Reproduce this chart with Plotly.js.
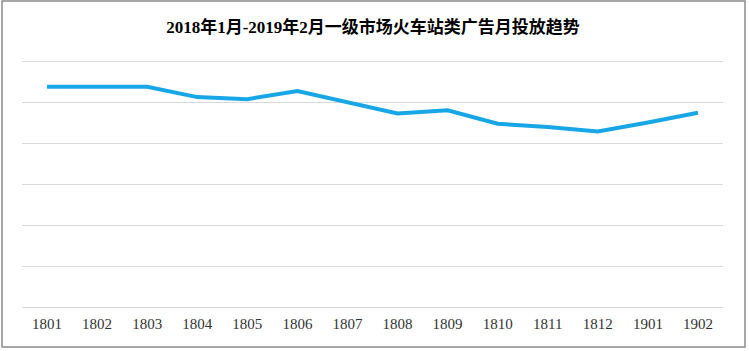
<!DOCTYPE html>
<html>
<head>
<meta charset="utf-8">
<script src="https://cdn.plot.ly/plotly-3.0.1.min.js"></script>
<style>
html,body{margin:0;padding:0;background:#fff;}
#chart{width:749px;height:351px;}
</style>
</head>
<body>
<div id="chart"></div>
<script>
const months = ['1801','1802','1803','1804','1805','1806','1807','1808','1809','1810','1811','1812','1901','1902'];
const values = [5.37, 5.37, 5.37, 5.12, 5.07, 5.27, 5.00, 4.72, 4.80, 4.47, 4.39, 4.28, 4.50, 4.74];
const titleText = '2018年1月-2019年2月一级市场火车站类广告月投放趋势';

const trace = {
  x: months,
  y: values,
  type: 'scatter',
  mode: 'lines',
  line: {color: '#17A7E6', width: 4},
  hoverinfo: 'skip'
};

const layout = {
  width: 749,
  height: 351,
  margin: {l: 22, r: 26, t: 59, b: 44},
  paper_bgcolor: '#ffffff',
  plot_bgcolor: '#ffffff',
  showlegend: false,
  title: {
    text: '<b>' + titleText + '</b>',
    font: {family: '"Liberation Serif", "Noto Sans CJK SC", serif', size: 17, color: '#000'},
    x: 0.498, xanchor: 'center',
    y: 0.923, yanchor: 'middle'
  },
  xaxis: {
    type: 'category',
    range: [-0.5, months.length - 0.5],
    showgrid: false,
    zeroline: false,
    showline: false,
    ticks: '',
    tickfont: {family: '"Liberation Serif", serif', size: 15, color: '#333'},
    ticklabelstandoff: 6
  },
  yaxis: {
    range: [0, 6.049],
    tick0: 0,
    dtick: 1,
    showticklabels: false,
    showgrid: true,
    gridcolor: '#d9d9d9',
    gridwidth: 1,
    zeroline: true,
    zerolinecolor: '#d9d9d9',
    zerolinewidth: 1,
    showline: false,
    ticks: ''
  },
  shapes: [{
    type: 'rect', xref: 'paper', yref: 'paper', layer: 'below',
    x0: -0.0285, x1: 1.0314, y0: -0.1613, y1: 1.2339,
    line: {color: '#8a8a8a', width: 1.5}
  }]
};

Plotly.newPlot('chart', [trace], layout, {displayModeBar: false, staticPlot: true});
</script>
</body>
</html>
